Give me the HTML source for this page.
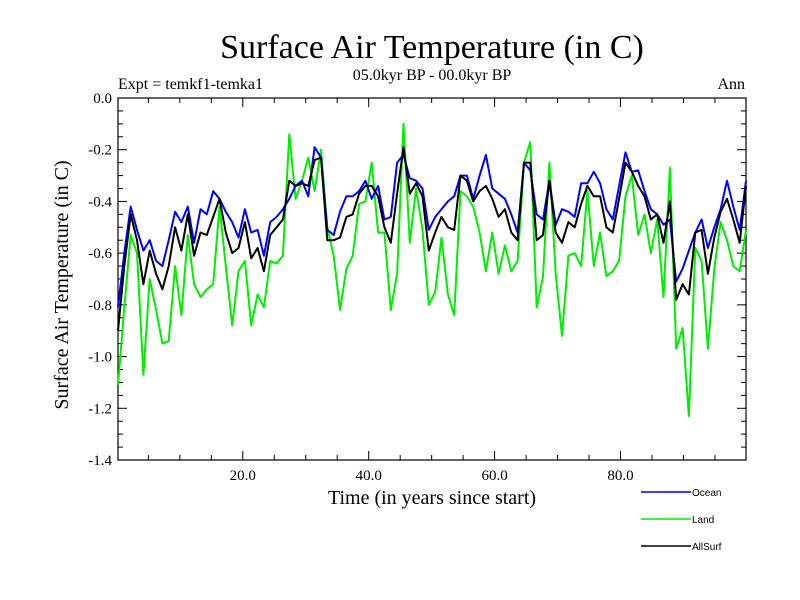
<!DOCTYPE html>
<html><head><meta charset="utf-8"><style>
html,body{margin:0;padding:0;background:#fff;width:800px;height:600px;overflow:hidden}
svg{display:block}
</style></head><body>
<svg id="chart" width="800" height="600" xmlns="http://www.w3.org/2000/svg">
<text x="432" y="58" font-family="Liberation Serif, serif" font-size="34" text-anchor="middle">Surface Air Temperature (in C)</text>
<text x="118" y="89" font-family="Liberation Serif, serif" font-size="16">Expt = temkf1-temka1</text>
<text x="432" y="80" font-family="Liberation Serif, serif" font-size="16" text-anchor="middle">05.0kyr BP - 00.0kyr BP</text>
<text x="745" y="89" font-family="Liberation Serif, serif" font-size="16" text-anchor="end">Ann</text>
<text transform="translate(68,285) rotate(-90)" font-family="Liberation Serif, serif" font-size="20" text-anchor="middle">Surface Air Temperature (in C)</text>
<text x="432" y="504" font-family="Liberation Serif, serif" font-size="20" text-anchor="middle">Time (in years since start)</text>
<g id="axes"></g>
<g id="series"></g>
<g id="legend"></g>
</svg>
<script>
const xTickYears = [20, 40, 60, 80];
const xTickLabels = ["20.0", "40.0", "60.0", "80.0"];
const yTickValues = [0, -0.2, -0.4, -0.6, -0.8, -1.0, -1.2, -1.4];
const yTickLabels = ["0.0", "-0.2", "-0.4", "-0.6", "-0.8", "-1.0", "-1.2", "-1.4"];
const seriesNames = ["Ocean", "Land", "AllSurf"];
const seriesColors = ["#0000ff", "#00ee00", "#000000"];
const ocean = [-0.81,-0.60,-0.42,-0.51,-0.59,-0.55,-0.63,-0.65,-0.55,-0.44,-0.48,-0.42,-0.56,-0.43,-0.45,-0.36,-0.39,-0.44,-0.48,-0.54,-0.43,-0.52,-0.51,-0.61,-0.48,-0.46,-0.43,-0.39,-0.34,-0.32,-0.38,-0.19,-0.23,-0.51,
-0.53,-0.44,-0.38,-0.38,-0.36,-0.32,-0.39,-0.34,-0.47,-0.46,-0.25,-0.22,-0.31,-0.32,-0.35,-0.51,-0.46,-0.43,-0.40,-0.38,-0.30,-0.30,-0.39,-0.30,-0.22,-0.35,-0.37,-0.39,-0.45,-0.52,-0.25,-0.28,-0.45,
-0.47,-0.32,-0.49,-0.43,-0.44,-0.46,-0.33,-0.33,-0.285,-0.33,-0.43,-0.47,-0.34,-0.21,-0.285,-0.28,-0.36,-0.43,-0.45,-0.49,-0.47,-0.71,-0.66,-0.59,-0.52,-0.47,-0.58,-0.50,-0.43,-0.32,-0.42,-0.51,-0.32];
const land = [-1.11,-0.81,-0.53,-0.60,-1.07,-0.70,-0.82,-0.95,-0.94,-0.65,-0.84,-0.53,-0.72,-0.77,-0.74,-0.72,-0.42,-0.65,-0.88,-0.67,-0.63,-0.88,-0.76,-0.81,-0.63,-0.64,-0.61,-0.14,-0.39,-0.32,-0.23,-0.36,-0.20,-0.50,
-0.61,-0.82,-0.66,-0.61,-0.41,-0.40,-0.25,-0.52,-0.52,-0.82,-0.68,-0.10,-0.56,-0.35,-0.51,-0.80,-0.75,-0.54,-0.76,-0.84,-0.36,-0.38,-0.42,-0.52,-0.67,-0.52,-0.68,-0.57,-0.67,-0.63,-0.25,-0.17,-0.81,
-0.69,-0.25,-0.68,-0.92,-0.61,-0.60,-0.65,-0.36,-0.65,-0.52,-0.69,-0.67,-0.63,-0.38,-0.30,-0.53,-0.45,-0.60,-0.47,-0.77,-0.27,-0.97,-0.89,-1.23,-0.58,-0.63,-0.97,-0.66,-0.48,-0.55,-0.65,-0.67,-0.51];
const allSurf = [-0.90,-0.65,-0.45,-0.55,-0.72,-0.59,-0.68,-0.74,-0.65,-0.50,-0.59,-0.45,-0.61,-0.52,-0.53,-0.46,-0.39,-0.52,-0.60,-0.58,-0.48,-0.62,-0.58,-0.67,-0.53,-0.50,-0.47,-0.32,-0.34,-0.33,-0.34,-0.24,-0.23,-0.55,
-0.55,-0.54,-0.46,-0.45,-0.37,-0.34,-0.34,-0.38,-0.50,-0.56,-0.37,-0.19,-0.37,-0.33,-0.38,-0.59,-0.52,-0.46,-0.50,-0.51,-0.30,-0.32,-0.40,-0.36,-0.34,-0.39,-0.46,-0.43,-0.52,-0.55,-0.25,-0.25,-0.55,
-0.53,-0.32,-0.52,-0.56,-0.48,-0.50,-0.41,-0.34,-0.38,-0.38,-0.50,-0.52,-0.39,-0.25,-0.285,-0.34,-0.38,-0.47,-0.45,-0.56,-0.40,-0.78,-0.72,-0.76,-0.52,-0.51,-0.68,-0.54,-0.44,-0.39,-0.47,-0.56,-0.34];

const NS = "http://www.w3.org/2000/svg";
const L = 118, R = 746, T = 98, B = 460;
const yMin = -1.4, yMax = 0;
function yScale(v){ return T + (yMax - v) / (yMax - yMin) * (B - T); }
function yearScale(y){ return 116.9 + 6.295 * y; }
function idxScale(i, n){ return L + i * (R - L) / (n - 1); }
function mk(tag, attrs, parent){ const e = document.createElementNS(NS, tag); for (const k in attrs) e.setAttribute(k, attrs[k]); parent.appendChild(e); return e; }

const axes = document.getElementById('axes');
const frame = mk('rect', {x:L, y:T, width:R-L, height:B-T, fill:'none', stroke:'#000', 'stroke-width':1.2}, axes);


for (let k = 0; k <= 28; k++) {
  const v = -k * 0.05, y = yScale(v), major = (k % 4 === 0);
  const len = major ? 9 : 5;
  const t1 = mk('line', {x1:L, x2:L+len, y1:y, y2:y, stroke:'#000', 'stroke-width':1}, axes);
  
  
  const t2 = mk('line', {x1:R, x2:R-len, y1:y, y2:y, stroke:'#000', 'stroke-width':1}, axes);
  
  
}
yTickValues.forEach((v, i) => {
  const t = mk('text', {x:112, y:yScale(v)+5, 'font-family':'Liberation Serif, serif', 'font-size':15, 'text-anchor':'end'}, axes);
  t.textContent = yTickLabels[i];
  
  
});
for (let yr = 5; yr < 100; yr += 5) {
  const x = yearScale(yr), major = (yr % 20 === 0);
  const len = major ? 9 : 5;
  const t1 = mk('line', {x1:x, x2:x, y1:B, y2:B-len, stroke:'#000', 'stroke-width':1}, axes);
  
  
  const t2 = mk('line', {x1:x, x2:x, y1:T, y2:T+len, stroke:'#000', 'stroke-width':1}, axes);
  
  
}
xTickYears.forEach((yr, i) => {
  const t = mk('text', {x:yearScale(yr), y:480, 'font-family':'Liberation Serif, serif', 'font-size':15, 'text-anchor':'middle'}, axes);
  t.textContent = xTickLabels[i];
  
  
});

const series = document.getElementById('series');
[ocean, land, allSurf].forEach((data, s) => {
  const pts = data.map((v, i) => idxScale(i, data.length).toFixed(1) + ',' + yScale(v).toFixed(1)).join(' ');
  const p = mk('polyline', {points:pts, fill:'none', stroke:seriesColors[s], 'stroke-width':2, 'stroke-linejoin':'round'}, series);
  
  
});
series.insertBefore(series.children[1], series.children[0]);

const legend = document.getElementById('legend');
const legY = [492, 519, 546];
[0, 1, 2].forEach(s => {
  const g = mk('g', {}, legend);
  
  
  mk('line', {x1:641, x2:691, y1:legY[s], y2:legY[s], stroke:seriesColors[s], 'stroke-width':1.5}, g);
  const t = mk('text', {x:692, y:legY[s]+4, 'font-family':'Liberation Sans, sans-serif', 'font-size':10}, g);
  t.textContent = seriesNames[s];
});
</script>
</body></html>
